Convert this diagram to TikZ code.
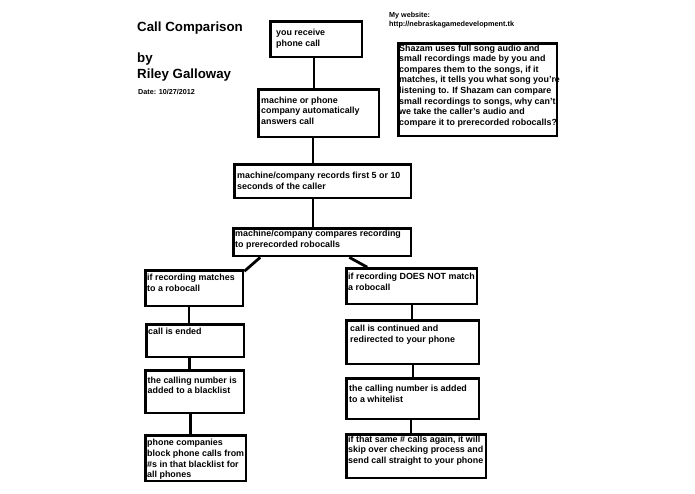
\documentclass[tikz,border=0pt]{standalone}
\usepackage{fontspec}
\setmainfont{Liberation Sans}
\usetikzlibrary{calc}
\tikzset{
  box/.style={draw=black, line width=2.6pt, fill=white, rectangle, inner sep=0pt, anchor=north west},
  txt/.style={anchor=north west, inner sep=0pt, align=left, font=\bfseries\fontsize{8.9}{10.6}\selectfont},
  conn/.style={draw=black, line width=2.8pt},
  title/.style={anchor=base west, inner sep=0pt, font=\bfseries\fontsize{13.3}{16}\selectfont},
  small/.style={anchor=base west, inner sep=0pt, font=\bfseries\fontsize{7.2}{9}\selectfont}
}
\newcommand\bx[5]{\node[box, minimum width=#4pt-2.4pt, minimum height=#5pt-2.4pt] (#1) at ($(#2,#3)+(1.2,1.2)$) {};}
\newcommand\st{\rule{0pt}{7.5pt}}
\begin{document}
\begin{tikzpicture}[x=1pt,y=-1pt]
\fill[white] (0,0) rectangle (695,494);
\useasboundingbox (0,0) rectangle (695,494);

% titles
\node[title] (ttl) at (137,31.3) {Call Comparison};
\node[title] (by) at (137,63) {by};
\node[title] (auth) at (137,78.6) {Riley Galloway};
\node[small] (date) at (138,94.5) {Date: 10/27/2012};
\node[small] (web) at (389,17.9) {My website:};
\node[small, font=\bfseries\fontsize{7.3}{9}\selectfont] (url) at (389,27) {http://nebraskagamedevelopment.tk};

% connector anchor x positions
\coordinate (x1) at (314,0);
\coordinate (x2) at (313,0);
\coordinate (x3) at (313,0);
\coordinate (xl1) at (189,0);
\coordinate (xl2) at (189.5,0);
\coordinate (xl3) at (190.7,0);
\coordinate (xr1) at (412,0);
\coordinate (xr2) at (413,0);
\coordinate (xr3) at (411,0);

% boxes
\bx{b1}{268}{19}{94}{38}
\bx{b2}{256}{87}{123}{50}
\bx{b3}{232}{162}{179}{36}
\bx{b4}{231}{226}{180}{30}
\bx{l1}{143}{268}{100}{38}
\bx{l2}{144}{322}{100}{35}
\bx{l3}{143}{368}{101}{45}
\bx{l4}{143}{433}{103}{48}
\bx{r1}{344}{266}{133}{38}
\bx{r2}{344}{318}{135}{46}
\bx{r3}{344}{376}{135}{43}
\bx{r4}{344}{432}{142}{46}
\bx{sz}{396}{41}{161}{95}

% connectors
\draw[conn] (b1.south -| x1) -- (b2.north -| x1);
\draw[conn] (b2.south -| x2) -- (b3.north -| x2);
\draw[conn] (b3.south -| x3) -- (b4.north -| x3);
\draw[conn] ($(b4.south west)+(28,0)$) -- ($(l1.north east)+(0,2)$);
\draw[conn] ($(b4.south east)+(-63,0)$) -- ($(r1.north west)+(22,0)$);
\draw[conn] (l1.south -| xl1) -- (l2.north -| xl1);
\draw[conn] (l2.south -| xl2) -- (l3.north -| xl2);
\draw[conn] (l3.south -| xl3) -- (l4.north -| xl3);
\draw[conn] (r1.south -| xr1) -- (r2.north -| xr1);
\draw[conn] (r2.south -| xr2) -- (r3.north -| xr2);
\draw[conn] (r3.south -| xr3) -- (r4.north -| xr3);

% texts
\node[txt] (t1) at (276,28.2) {\st you receive\\phone call};
\node[txt] (t2) at (261,95.5) {\st machine or phone\\company automatically\\answers call};
\node[txt] (t3) at (237,170.8) {\st machine/company records first 5 or 10\\seconds of the caller};
\node[txt] (t4) at (235,228.8) {\st machine/company compares recording\\to prerecorded robocalls};
\node[txt] (tl1) at (147,273.2) {\st if recording matches\\to a robocall};
\node[txt] (tl2) at (148,326.5) {\st call is ended};
\node[txt] (tl3) at (147.5,375.5) {\st the calling number is\\added to a blacklist};
\node[txt] (tl4) at (147,438.2) {\st phone companies\\block phone calls from\\\#s in that blacklist for\\all phones};
\node[txt] (tr1) at (348,272.2) {\st if recording DOES NOT match\\a robocall};
\node[txt] (tr2) at (350,324.2) {\st call is continued and\\redirected to your phone};
\node[txt] (tr3) at (349,383.8) {\st the calling number is added\\to a whitelist};
\node[txt] (tr4) at (348,434.5) {\st if that same \# calls again, it will\\skip over checking process and\\send call straight to your phone};
\node[txt] (tsz) at (399,43.5) {\st Shazam uses full song audio and\\small recordings made by you and\\compares them to the songs, if it\\matches, it tells you what song you're\\listening to. If Shazam can compare\\small recordings to songs, why can't\\we take the caller's audio and\\compare it to prerecorded robocalls?};
\end{tikzpicture}
\end{document}
